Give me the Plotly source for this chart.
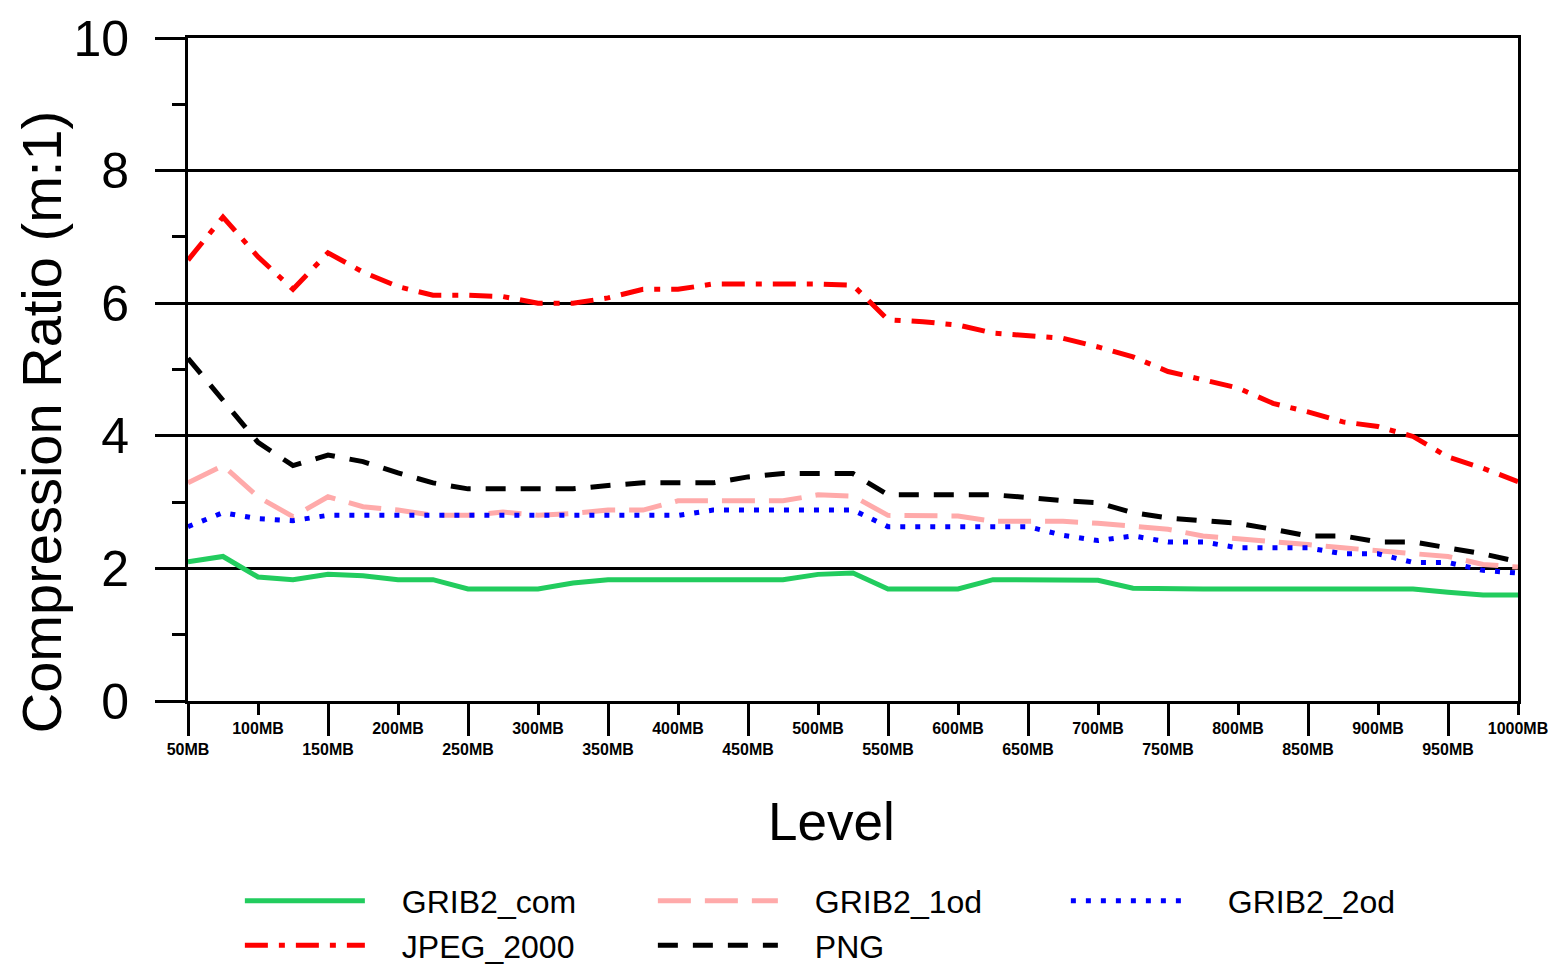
import plotly.graph_objects as go

levels = [50, 75, 100, 125, 150, 175, 200, 225, 250, 275, 300, 325, 350, 375, 400, 425, 450, 475, 500, 525,
          550, 575, 600, 625, 650, 675, 700, 725, 750, 775, 800, 825, 850, 875, 900, 925, 950, 975, 1000]

grib2_com = [2.10, 2.18, 1.87, 1.83, 1.91, 1.89, 1.83, 1.83, 1.69, 1.69, 1.69, 1.78, 1.83, 1.83, 1.83, 1.83, 1.83, 1.83, 1.91, 1.93,
             1.69, 1.69, 1.69, 1.83, 1.83, 1.83, 1.82, 1.70, 1.69, 1.69, 1.69, 1.69, 1.69, 1.69, 1.69, 1.69, 1.64, 1.60, 1.60]
grib2_1od = [3.29, 3.55, 3.08, 2.78, 3.08, 2.93, 2.88, 2.80, 2.80, 2.85, 2.80, 2.83, 2.88, 2.88, 3.02, 3.02, 3.02, 3.02, 3.11, 3.09,
             2.80, 2.80, 2.79, 2.71, 2.71, 2.71, 2.68, 2.63, 2.59, 2.49, 2.45, 2.40, 2.36, 2.31, 2.27, 2.22, 2.18, 2.06, 2.02]
grib2_2od = [2.63, 2.84, 2.75, 2.72, 2.80, 2.80, 2.80, 2.80, 2.80, 2.80, 2.80, 2.80, 2.80, 2.80, 2.80, 2.88, 2.88, 2.88, 2.88, 2.88,
             2.63, 2.63, 2.63, 2.63, 2.63, 2.50, 2.42, 2.49, 2.40, 2.40, 2.31, 2.31, 2.31, 2.22, 2.22, 2.09, 2.09, 1.97, 1.93]
jpeg_2000 = [6.65, 7.30, 6.70, 6.21, 6.76, 6.47, 6.25, 6.12, 6.12, 6.10, 6.00, 6.00, 6.08, 6.21, 6.21, 6.29, 6.29, 6.29, 6.29, 6.27,
             5.75, 5.72, 5.67, 5.55, 5.51, 5.47, 5.34, 5.19, 4.97, 4.84, 4.72, 4.49, 4.36, 4.21, 4.14, 3.99, 3.68, 3.51, 3.31]
png = [5.17, 4.53, 3.90, 3.55, 3.71, 3.61, 3.44, 3.29, 3.20, 3.20, 3.20, 3.20, 3.25, 3.29, 3.29, 3.29, 3.38, 3.43, 3.43, 3.43,
       3.11, 3.11, 3.11, 3.11, 3.07, 3.02, 2.99, 2.84, 2.76, 2.72, 2.68, 2.59, 2.49, 2.49, 2.40, 2.40, 2.31, 2.22, 2.10]

top_ticks = [100, 200, 300, 400, 500, 600, 700, 800, 900, 1000]
top_labels = ["100MB", "200MB", "300MB", "400MB", "500MB", "600MB", "700MB", "800MB", "900MB", "1000MB"]
bottom_ticks = [50, 150, 250, 350, 450, 550, 650, 750, 850, 950]
bottom_labels = ["50MB", "150MB", "250MB", "350MB", "450MB", "550MB", "650MB", "750MB", "850MB", "950MB"]

series = [
    ("GRIB2_com", grib2_com, "#22CC5E", "solid", 5),
    ("GRIB2_1od", grib2_1od, "#FFAAAA", "33px,14px", 5),
    ("GRIB2_2od", grib2_2od, "#0000FF", "5px,10px", 5),
    ("JPEG_2000", jpeg_2000, "#FF0000", "23px,11px,6px,11px", 5),
    ("PNG", png, "#000000", "20px,15px", 5),
]

FONT = "Liberation Sans, Arial, sans-serif"
GAP = "\u2003"  # spacing between legend symbol and legend text

fig = go.Figure()
for name, vals, color, dash, w in series:
    fig.add_trace(go.Scatter(x=levels, y=vals, name=GAP + name, mode="lines",
                             line=dict(color=color, dash=dash, width=w)))

# helper trace so the second x axis (long ticks / lower labels) is drawn
fig.add_trace(go.Scatter(x=levels, y=png, xaxis="x2", mode="lines", opacity=0,
                         line=dict(width=0), showlegend=False, hoverinfo="skip"))

fig.update_layout(
    width=1548, height=958,
    margin=dict(l=180, r=38, t=30, b=265, autoexpand=False),
    plot_bgcolor="white", paper_bgcolor="white",
    font=dict(family=FONT, color="black"),
    showlegend=True,
    legend=dict(orientation="h", x=0.039, y=-0.260, xanchor="left", yanchor="top",
                font=dict(size=32, family=FONT), itemwidth=120, entrywidth=278,
                bgcolor="rgba(0,0,0,0)"),
    xaxis=dict(range=[50, 1000], tickmode="array", tickvals=top_ticks, ticktext=top_labels,
               ticks="outside", ticklen=11, tickwidth=3, tickcolor="black",
               tickfont=dict(size=16, family=FONT, weight="bold"), automargin=False,
               showline=True, linewidth=3, linecolor="black", mirror=True,
               showgrid=False, zeroline=False),
    xaxis2=dict(range=[50, 1000], overlaying="x", anchor="y", side="bottom",
                tickmode="array", tickvals=bottom_ticks, ticktext=bottom_labels,
                ticks="outside", ticklen=34, tickwidth=3, tickcolor="black",
                tickfont=dict(size=16, family=FONT, weight="bold"), automargin=False,
                showline=False, showgrid=False, zeroline=False),
    yaxis=dict(range=[0, 10], tickmode="array", tickvals=[0, 2, 4, 6, 8, 10],
               ticks="outside", ticklen=30, tickwidth=3, tickcolor="black",
               minor=dict(tickvals=[1, 3, 5, 7, 9], ticks="outside", ticklen=13, tickwidth=3, tickcolor="black"),
               tickfont=dict(size=50, family=FONT), ticklabelstandoff=16, automargin=False,
               showline=True, linewidth=3, linecolor="black", mirror=True,
               showgrid=True, gridcolor="black", gridwidth=3, zeroline=False),
    annotations=[
        dict(text="Compression Ratio (m:1)", xref="paper", yref="paper", x=-0.11, y=0.42,
             textangle=-90, showarrow=False, font=dict(size=56, family=FONT),
             xanchor="center", yanchor="middle"),
        dict(text="Level", xref="paper", yref="paper", x=0.484, y=-0.1825,
             showarrow=False, font=dict(size=53, family=FONT),
             xanchor="center", yanchor="middle"),
    ],
)

fig.write_html("out.html")
